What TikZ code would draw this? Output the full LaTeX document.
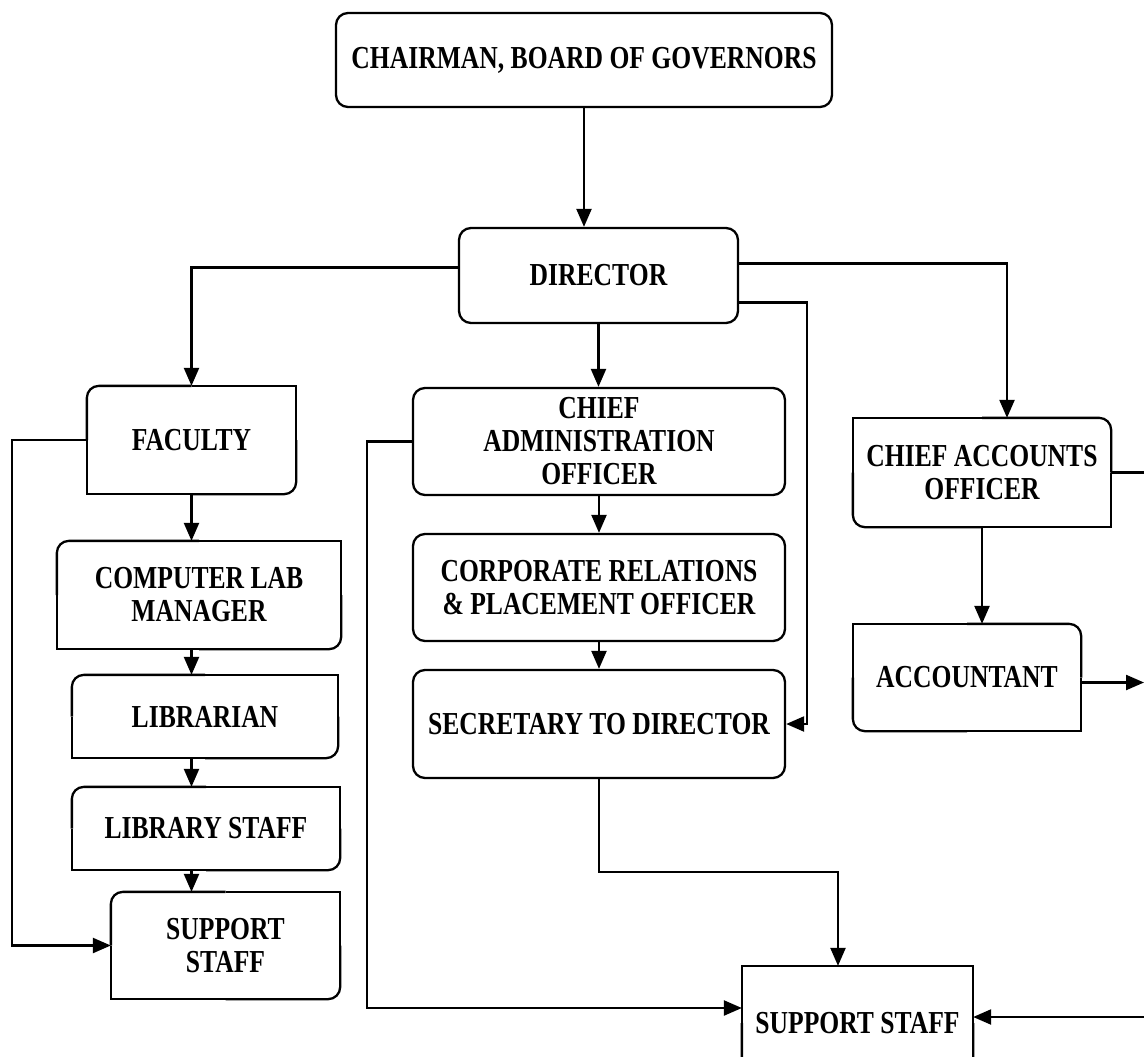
\documentclass[tikz,border=0pt]{standalone}
\usepackage{fontspec}
\setmainfont{Liberation Serif}[FakeStretch=0.8]
\usetikzlibrary{arrows.meta,calc}

% outline of a box, one corner style for each corner (nw, ne, se, sw)
\newcommand{\cornerbox}[5]{%
  \draw[#2] (#1.west) |- (#1.north);
  \draw[#3] (#1.north) -| (#1.east);
  \draw[#4] (#1.east) |- (#1.south);
  \draw[#5] (#1.south) -| (#1.west);
}

\begin{document}
\begin{tikzpicture}[x=1pt, y=-1pt, line width=2.3pt,
  >={Triangle[length=18pt,width=15pt]},
  post/.style={inner sep=0pt, align=center, font=\fontsize{32}{33}\selectfont\bfseries},
  rc/.style={rounded corners=12pt},
  sc/.style={sharp corners}]

\clip (0,0) rectangle (1144,1057);
\coordinate (edge) at (1144,0);

% Top of the chart
\node[post, draw, rc, minimum width=496pt, minimum height=94pt] (chair) at (584,60) {CHAIRMAN, BOARD OF GOVERNORS};
\node[post, draw, rc, minimum width=279pt, minimum height=95pt] (dir) at (598.5,275.5) {DIRECTOR};

% Left column
\node[post, minimum width=207pt, minimum height=106pt] (fac) at (191.5,440) {FACULTY};
\node[post, minimum width=282pt, minimum height=106pt] (clm) at (199,595) {COMPUTER LAB\\MANAGER};
\node[post, minimum width=264pt, minimum height=81pt] (lib) at (205,716.5) {LIBRARIAN};
\node[post, minimum width=266pt, minimum height=81pt] (libst) at (206,828.5) {LIBRARY STAFF};
\node[post, minimum width=227pt, minimum height=105pt] (sup1) at (225.5,945.5) {SUPPORT\\STAFF};
\cornerbox{fac}{rc}{sc}{rc}{sc}
\cornerbox{clm}{rc}{sc}{rc}{sc}
\cornerbox{lib}{rc}{sc}{rc}{sc}
\cornerbox{libst}{rc}{sc}{rc}{sc}
\cornerbox{sup1}{rc}{sc}{rc}{sc}

% Middle column
\node[post, draw, rc, minimum width=372pt, minimum height=107pt] (cao) at (599,441.5) {CHIEF\\ADMINISTRATION\\OFFICER};
\node[post, draw, rc, minimum width=372pt, minimum height=107pt] (crpo) at (599,587.5) {CORPORATE RELATIONS\\\& PLACEMENT OFFICER};
\node[post, draw, rc, minimum width=372pt, minimum height=108pt] (sec) at (599,724) {SECRETARY TO DIRECTOR};

% Right column
\node[post, minimum width=256pt, minimum height=107pt] (cacc) at (982,472.5) {CHIEF ACCOUNTS\\OFFICER};
\node[post, minimum width=226pt, minimum height=105pt] (acct) at (967,677.5) {ACCOUNTANT};
\cornerbox{cacc}{sc}{rc}{sc}{rc}
\cornerbox{acct}{sc}{rc}{sc}{rc}

% Support staff at the bottom, cut by the page edge
\node[post, minimum width=229pt, minimum height=112pt] (sup2) at (857.5,1023) {SUPPORT STAFF};
\cornerbox{sup2}{sc}{sc}{rc}{rc}

% Connectors
\draw[->] (chair.south) -- (chair.south |- dir.north);
\draw[->] ($(dir.west)+(0,-8)$) -| (fac.north);
\draw[->] (dir.south) -- (dir.south |- cao.north);
\draw[->] ($(dir.east)+(0,-12)$) -| ($(cacc.north)+(25,0)$);
\draw[->] ($(dir.east)+(0,27)$) -| ($(sec.east)+(21,0)$) -- (sec.east);

\draw[->] (fac.south) -- (fac.south |- clm.north);
\draw[->] (fac.south |- clm.south) -- (fac.south |- lib.north);
\draw[->] (fac.south |- lib.south) -- (fac.south |- libst.north);
\draw[->] (fac.south |- libst.south) -- (fac.south |- sup1.north);
\draw[->] (fac.west) -- ++(-75,0) |- (sup1.west);

\draw[->] (cao.south) -- (cao.south |- crpo.north);
\draw[->] (crpo.south) -- (crpo.south |- sec.north);
\draw[->] (cao.west) -- ++(-45,0) |- ($(sup2.west)+(0,-15)$);
\draw[->] (sec.south) -- ++(0,93) -| ($(sup2.north)+(-19.5,0)$);

\draw[->] (cacc.south) -- (cacc.south |- acct.north);
\draw (cacc.east) -- (cacc.east -| edge);
\draw[->] ($(acct.east)+(0,5)$) -- ($(acct.east -| edge)+(0,5)$);
\draw[->] ($(sup2.east -| edge)+(0,-6)$) -- ($(sup2.east)+(0,-6)$);

\end{tikzpicture}
\end{document}
